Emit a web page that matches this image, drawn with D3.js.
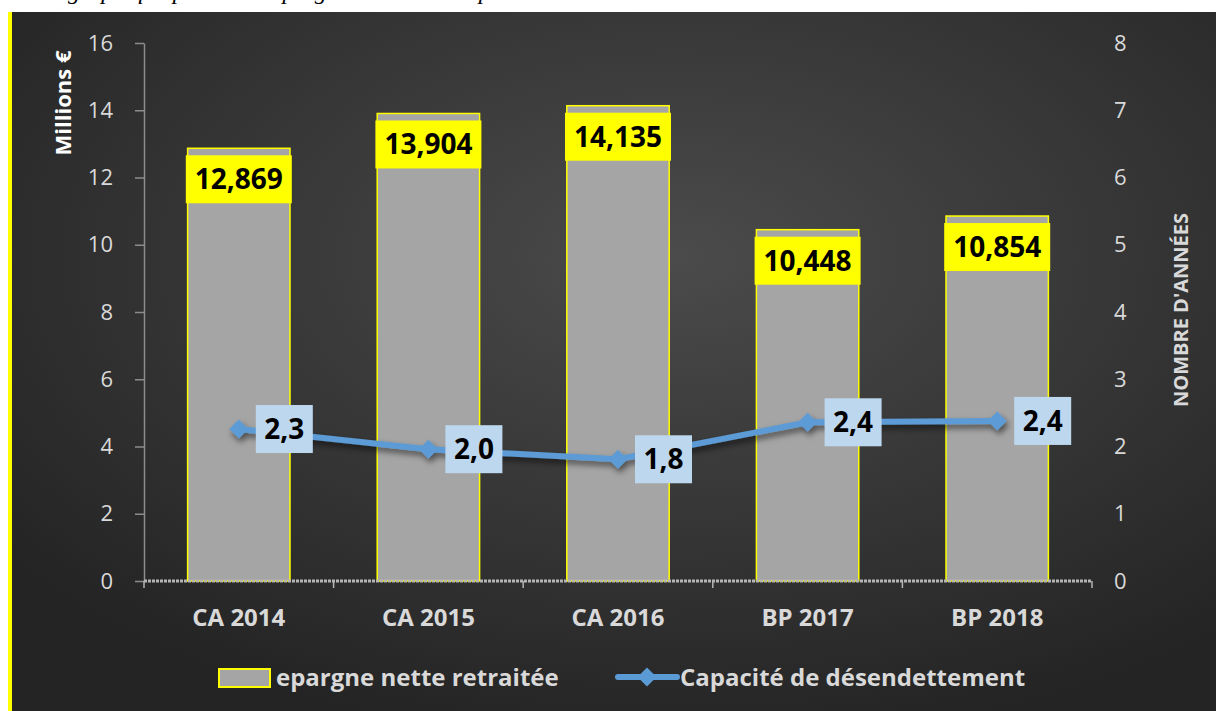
<!DOCTYPE html>
<html>
<head>
<meta charset="utf-8">
<script src="https://cdn.jsdelivr.net/npm/d3@7"></script>
<style>
  body { margin: 0; background: #fff; }
  text { font-family: "Open Sans", Lato, sans-serif; }
</style>
</head>
<body>
<div id="chart"></div>
<script>
const categories = ["CA 2014", "CA 2015", "CA 2016", "BP 2017", "BP 2018"];
const epargne = [12.869, 13.904, 14.135, 10.448, 10.854];
const capacite = [2.26, 1.96, 1.81, 2.36, 2.38];
const leftTicks = [0, 2, 4, 6, 8, 10, 12, 14, 16];
const rightTicks = [0, 1, 2, 3, 4, 5, 6, 7, 8];

const W = 1216, H = 711;
const plot = { left: 144, right: 1092, top: 43, bottom: 581 };

const fr = d3.formatLocale({ decimal: ",", thousands: " ", grouping: [3], currency: ["", " €"] });
const fmtBar = fr.format(".3f");
const fmtLine = fr.format(".1f");

const svg = d3.select("#chart")
  .append("svg")
    .attr("width", W)
    .attr("height", H);

const defs = svg.append("defs");
const grad = defs.append("radialGradient")
  .attr("id", "bg")
  .attr("cx", "55%").attr("cy", "35%").attr("r", "70%");
grad.append("stop").attr("offset", "0%").attr("stop-color", "#4b4b4b");
grad.append("stop").attr("offset", "100%").attr("stop-color", "#242424");

const shadow = defs.append("filter")
  .attr("id", "shadow")
  .attr("x", "-10%").attr("y", "-50%").attr("width", "120%").attr("height", "200%");
shadow.append("feDropShadow")
  .attr("dx", 2).attr("dy", 4).attr("stdDeviation", 3)
  .attr("flood-color", "#000").attr("flood-opacity", 0.55);

// bout de texte coupé au-dessus du graphique
svg.append("text")
  .attr("x", 38).attr("y", -1)
  .style("font-family", "'Liberation Serif', serif")
  .style("font-style", "italic")
  .style("font-size", "24px")
  .attr("fill", "#000")
  .text("Le graphique présente l'épargne nette et la capacité de désendettement");

svg.append("rect")
  .attr("x", 12).attr("y", 12)
  .attr("width", W - 12).attr("height", H - 12)
  .attr("fill", "url(#bg)");
svg.append("rect")
  .attr("x", 8).attr("y", 12)
  .attr("width", 4).attr("height", H - 12)
  .attr("fill", "#ffff00");

const x = d3.scaleBand()
  .domain(categories)
  .range([plot.left, plot.right])
  .paddingInner(0.46)
  .paddingOuter(0.23);

const yL = d3.scaleLinear().domain([0, 16]).range([plot.bottom, plot.top]);
const yR = d3.scaleLinear().domain([0, 8]).range([plot.bottom, plot.top]);

// axe gauche
const axL = svg.append("g")
  .attr("transform", `translate(${plot.left},0)`)
  .call(d3.axisLeft(yL).tickValues(leftTicks).tickSize(9).tickPadding(22).tickSizeOuter(0));
axL.select(".domain").attr("stroke", "#8c8c8c").attr("stroke-width", 1.5);
axL.selectAll(".tick line").attr("stroke", "#8c8c8c").attr("stroke-width", 1.5);
axL.selectAll(".tick text")
  .attr("fill", "#d9d9d9")
  .style("font-size", "22px");

// axe droit
const axR = svg.append("g")
  .attr("transform", `translate(${plot.right},0)`)
  .call(d3.axisRight(yR).tickValues(rightTicks).tickSize(0).tickPadding(22));
axR.select(".domain").remove();
axR.selectAll(".tick text")
  .attr("fill", "#d9d9d9")
  .style("font-size", "22px");

// barres
svg.append("g")
  .selectAll("rect")
  .data(categories)
  .join("rect")
    .attr("x", d => x(d))
    .attr("width", x.bandwidth())
    .attr("y", (d, i) => yL(epargne[i]))
    .attr("height", (d, i) => plot.bottom - yL(epargne[i]))
    .attr("fill", "#a5a5a5")
    .attr("stroke", "#ffff00")
    .attr("stroke-width", 1.5);

// axe du bas
const step = x.step();
const bounds = d3.range(categories.length + 1).map(i => plot.left + i * step);
svg.append("line")
  .attr("x1", plot.left).attr("x2", plot.right)
  .attr("y1", plot.bottom).attr("y2", plot.bottom)
  .attr("stroke", "#b5b5b5").attr("stroke-width", 3)
  .attr("stroke-dasharray", "3 1");
svg.append("g")
  .selectAll("line")
  .data(bounds)
  .join("line")
    .attr("x1", d => d).attr("x2", d => d)
    .attr("y1", plot.bottom).attr("y2", plot.bottom + 7)
    .attr("stroke", "#b5b5b5").attr("stroke-width", 1.5);

const axB = svg.append("g")
  .attr("transform", `translate(0,${plot.bottom})`)
  .call(d3.axisBottom(x).tickSize(0).tickPadding(28));
axB.select(".domain").remove();
axB.selectAll(".tick text")
  .attr("fill", "#d9d9d9")
  .style("font-size", "24px")
  .style("font-weight", "bold");

// étiquettes des barres
const barLab = svg.append("g")
  .selectAll("g")
  .data(categories)
  .join("g")
    .attr("transform", (d, i) => `translate(${x(d) + x.bandwidth() / 2},${yL(epargne[i]) + 7})`);
barLab.append("rect")
  .attr("x", -53).attr("width", 106)
  .attr("y", 0).attr("height", 48)
  .attr("fill", "#ffff00");
barLab.append("text")
  .attr("text-anchor", "middle")
  .attr("y", 34)
  .attr("fill", "#000")
  .style("font-size", "28px")
  .style("font-weight", "bold")
  .text((d, i) => fmtBar(epargne[i]));

// ligne
const cx = d => x(d) + x.bandwidth() / 2;
const line = d3.line()
  .x((d, i) => cx(categories[i]))
  .y(d => yR(d));

const lineG = svg.append("g").attr("filter", "url(#shadow)");
lineG.append("path")
  .attr("d", line(capacite))
  .attr("fill", "none")
  .attr("stroke", "#5b9bd5")
  .attr("stroke-width", 6);
lineG.selectAll("path.pt")
  .data(capacite)
  .join("path")
    .attr("class", "pt")
    .attr("d", d3.symbol(d3.symbolSquare, 180))
    .attr("transform", (d, i) => `translate(${cx(categories[i])},${yR(d)}) rotate(45)`)
    .attr("fill", "#5b9bd5");

// étiquettes de la ligne
const lineLab = svg.append("g")
  .selectAll("g")
  .data(capacite)
  .join("g")
    .attr("transform", (d, i) => `translate(${cx(categories[i]) + 17},${yR(d) - 24})`);
lineLab.append("rect")
  .attr("width", 57).attr("height", 48)
  .attr("fill", "#bdd7ee");
lineLab.append("text")
  .attr("x", 28.5).attr("y", 34)
  .attr("text-anchor", "middle")
  .attr("fill", "#000")
  .style("font-size", "28px")
  .style("font-weight", "bold")
  .text(d => fmtLine(d));

// titres des axes
svg.append("text")
  .attr("transform", "translate(71,103) rotate(-90)")
  .attr("text-anchor", "middle")
  .attr("fill", "#ffffff")
  .style("font-size", "22px")
  .style("font-weight", "bold")
  .text("Millions €");

svg.append("text")
  .attr("transform", "translate(1188,310) rotate(-90)")
  .attr("text-anchor", "middle")
  .attr("fill", "#d9d9d9")
  .style("font-size", "20px")
  .style("font-weight", "bold")
  .text("NOMBRE D'ANNÉES");

// légende
const leg = svg.append("g");
leg.append("rect")
  .attr("x", 219).attr("y", 669)
  .attr("width", 51).attr("height", 18)
  .attr("fill", "#a5a5a5")
  .attr("stroke", "#ffff00").attr("stroke-width", 2);
leg.append("text")
  .attr("x", 276).attr("y", 686)
  .attr("fill", "#d9d9d9")
  .style("font-size", "24px")
  .style("font-weight", "bold")
  .text("epargne nette retraitée");
leg.append("line")
  .attr("x1", 618).attr("x2", 677)
  .attr("y1", 677).attr("y2", 677)
  .attr("stroke", "#5b9bd5").attr("stroke-width", 6)
  .attr("stroke-linecap", "round");
leg.append("path")
  .attr("d", d3.symbol(d3.symbolSquare, 180))
  .attr("transform", "translate(647,677) rotate(45)")
  .attr("fill", "#5b9bd5");
leg.append("text")
  .attr("x", 680).attr("y", 686)
  .attr("fill", "#d9d9d9")
  .style("font-size", "24px")
  .style("font-weight", "bold")
  .text("Capacité de désendettement");
</script>
</body>
</html>
